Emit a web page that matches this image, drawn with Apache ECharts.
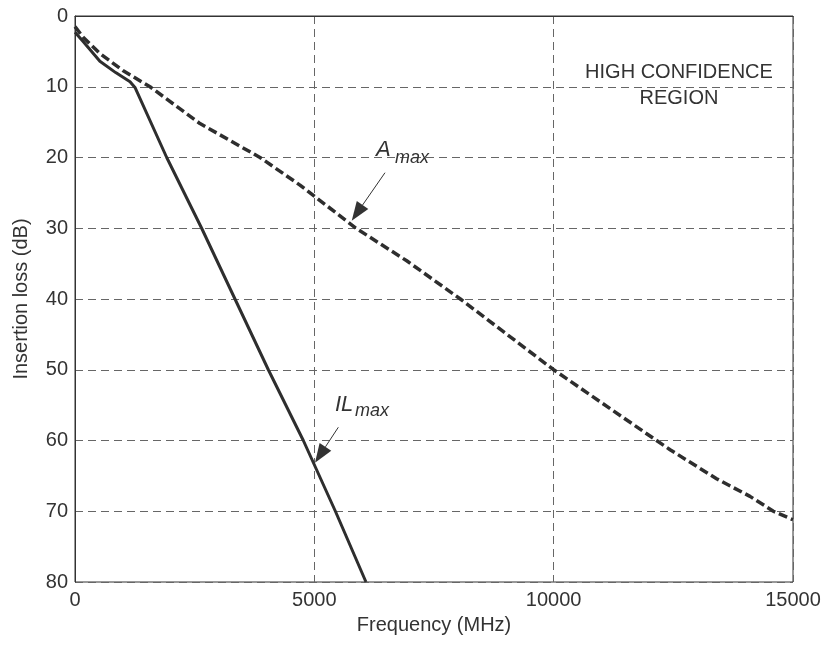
<!DOCTYPE html>
<html>
<head>
<meta charset="utf-8">
<script src="https://cdn.jsdelivr.net/npm/echarts@6/dist/echarts.min.js"></script>
<style>html,body{margin:0;padding:0;background:#fff;}#c{width:824px;height:645px;}</style>
</head>
<body>
<div id="c"></div>
<script>
// IL_max (solid) curve
const ilFreq = [0, 170, 520, 850, 1150, 1253, 1916, 2646, 3342, 4039, 4770, 5440, 6079];
const ilLoss = [2.3, 3.6, 6.4, 8.0, 9.3, 10.1, 20, 30, 40, 50, 60, 70, 80];
// A_max (dashed) curve
const aFreq = [0, 170, 520, 1000, 1567, 2611, 3865, 4700, 5870, 6930, 8050, 10000, 12150, 12432, 13403, 14102, 14590, 15000];
const aLoss = [1.5, 3.0, 5.3, 7.7, 10, 15.2, 20, 23.9, 30, 34.6, 40, 50, 60, 61.3, 65.4, 67.9, 70, 71.2];
// axis ticks
const xTicks = [0, 5000, 10000, 15000];
const yTicks = [0, 10, 20, 30, 40, 50, 60, 70, 80];

const FONT = "'Liberation Sans', Arial, Helvetica, sans-serif";
const TXT = '#333';
const chart = echarts.init(document.getElementById('c'), null, {renderer: 'canvas'});

const option = {
  animation: false,
  backgroundColor: '#fff',
  grid: {left: 75, right: 31, top: 16, bottom: 63, show: true, borderColor: '#333', borderWidth: 1, backgroundColor: 'transparent'},
  xAxis: {
    type: 'value', min: xTicks[0], max: xTicks[xTicks.length - 1], interval: 5000,
    name: 'Frequency (MHz)', nameLocation: 'middle', nameGap: 33,
    nameTextStyle: {fontFamily: FONT, fontSize: 20, color: TXT},
    axisLine: {show: true, lineStyle: {color: '#333', width: 1}},
    axisTick: {show: false},
    axisLabel: {fontFamily: FONT, fontSize: 20, color: TXT, margin: 8, formatter: v => String(v)},
    splitLine: {show: true, lineStyle: {color: '#666', type: [8, 5], width: 1}}
  },
  yAxis: {
    type: 'value', inverse: true, min: yTicks[0], max: yTicks[yTicks.length - 1], interval: 10,
    name: 'Insertion loss (dB)', nameLocation: 'middle', nameGap: 44,
    nameTextStyle: {fontFamily: FONT, fontSize: 20, color: TXT},
    axisLine: {show: true, lineStyle: {color: '#333', width: 1}},
    axisTick: {show: false},
    axisLabel: {fontFamily: FONT, fontSize: 20, color: TXT, margin: 7, formatter: v => String(v)},
    splitLine: {show: true, lineStyle: {color: '#666', type: [8, 5], width: 1}}
  },
  series: [
    {
      name: 'IL_max', type: 'line', showSymbol: false, symbol: 'none', smooth: false,
      data: ilFreq.map((f, i) => [f, ilLoss[i]]),
      lineStyle: {color: '#2e2e2e', width: 3}
    },
    {
      name: 'A_max', type: 'line', showSymbol: false, symbol: 'none', smooth: false,
      data: aFreq.map((f, i) => [f, aLoss[i]]),
      lineStyle: {color: '#2e2e2e', width: 3.5, type: [9, 4]}
    }
  ]
};
chart.setOption(option);

// annotations in data coordinates
const arrows = [
  {from: [6476, 22.15], to: [5781, 28.93]},
  {from: [5501, 58.13], to: [5014, 63.14]}
];
const texts = [
  {at: [12618, 6.08], text: 'HIGH CONFIDENCE\nREGION', font: '20px ' + FONT, align: 'center', va: 'top', lh: 26},
  {at: [6288, 18.87], text: 'A', font: 'italic 22px ' + FONT, align: 'left', va: 'middle'},
  {at: [6685, 20.07], text: 'max', font: 'italic 18px ' + FONT, align: 'left', va: 'middle'},
  {at: [5432, 54.98], text: 'IL', font: 'italic 22px ' + FONT, align: 'left', va: 'middle'},
  {at: [5850, 55.83], text: 'max', font: 'italic 18px ' + FONT, align: 'left', va: 'middle'}
];
const px = p => chart.convertToPixel({gridIndex: 0}, p);
const elements = [];
arrows.forEach(a => {
  const p0 = px(a.from), p1 = px(a.to);
  const dx = p1[0] - p0[0], dy = p1[1] - p0[1];
  const len = Math.hypot(dx, dy), ux = dx / len, uy = dy / len;
  const L = 19, W = 7;
  const bx = p1[0] - ux * L, by = p1[1] - uy * L;
  elements.push({type: 'polyline', shape: {points: [p0, [bx, by]]}, style: {stroke: '#333', lineWidth: 1}, z: 10});
  elements.push({type: 'polygon', shape: {points: [p1, [bx - uy * W, by + ux * W], [bx + uy * W, by - ux * W]]}, style: {fill: '#333'}, z: 10});
});
texts.forEach(t => {
  const p = px(t.at);
  elements.push({type: 'text', x: p[0], y: p[1], style: {text: t.text, font: t.font, fill: TXT, align: t.align, verticalAlign: t.va, lineHeight: t.lh}, z: 10});
});
chart.setOption({graphic: {elements: elements}});
</script>
</body>
</html>
